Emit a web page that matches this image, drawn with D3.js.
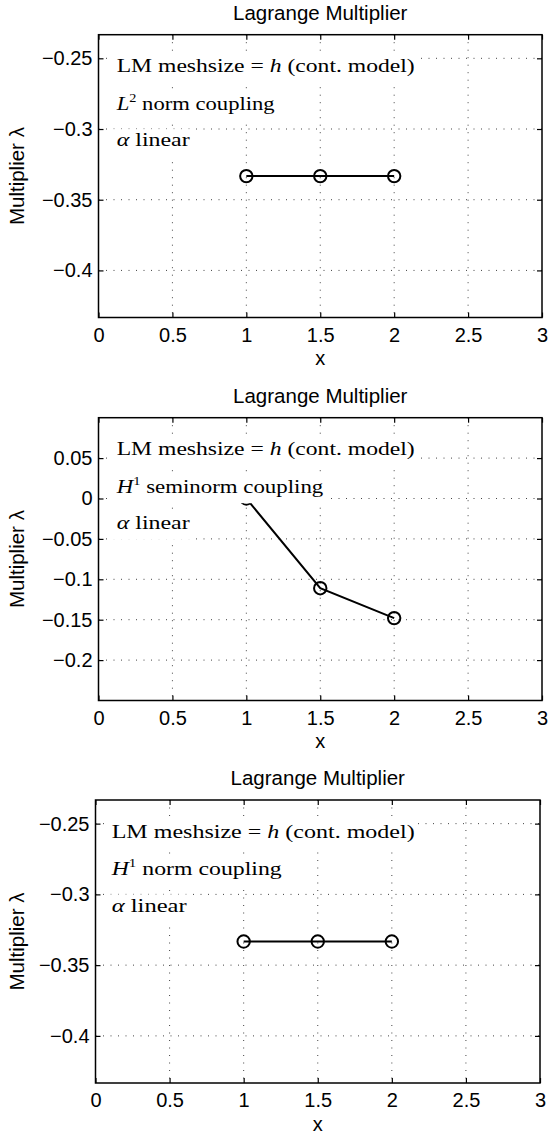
<!DOCTYPE html>
<html><head><meta charset="utf-8">
<script src="https://cdn.jsdelivr.net/npm/d3@7"></script>
<style>body{margin:0;background:#fff} svg{display:block}</style>
</head>
<body><svg id="c" width="548" height="1137"></svg>
<script>
// ---- data ----
const xTicks = [0, 0.5, 1, 1.5, 2, 2.5, 3];
const xPoints = [1, 1.5, 2];
const lambdaL2 = [-0.3333, -0.3333, -0.3333];
const lambdaH1Semi = [0.0, -0.111, -0.148];
const lambdaH1 = [-0.3333, -0.3333, -0.3333];
const yTicksA = [-0.4, -0.35, -0.3, -0.25];
const yTicksB = [-0.2, -0.15, -0.1, -0.05, 0, 0.05];
const yDomainA = [-0.4333, -0.2333];
const yDomainB = [-0.25, 0.1];
const titleText = "Lagrange Multiplier";
const xLabelText = "x";
const yLabelText = "Multiplier λ";
const couplingNames = [["L", "2", " norm coupling"], ["H", "1", " seminorm coupling"], ["H", "1", " norm coupling"]];

// ---- layout ----
const panels = [
  {left: 98.5, right: 542, top: 34.7, bottom: 317.5, data: lambdaL2, yDomain: yDomainA, yTicks: yTicksA, coupling: couplingNames[0], textX: 116.7, textW: [298, 158, 73]},
  {left: 98.5, right: 542, top: 417.7, bottom: 700.5, data: lambdaH1Semi, yDomain: yDomainB, yTicks: yTicksB, coupling: couplingNames[1], textX: 116.7, textW: [298, 206.6, 73]},
  {left: 95.5, right: 540, top: 800, bottom: 1083, data: lambdaH1, yDomain: yDomainA, yTicks: yTicksA, coupling: couplingNames[2], textX: 111.7, textW: [303, 170, 75]}
];
const SANS = "'Liberation Sans', Arial, Helvetica, sans-serif";
const SERIF = "'Liberation Serif', 'Times New Roman', serif";
const FS = 20;
const fmt = d => d === 0 ? "0" : (d < 0 ? "\u2212" : "") + String(Math.abs(d));

const svg = d3.select("#c");

panels.forEach(p => {
  const x = d3.scaleLinear().domain([0, 3]).range([p.left, p.right]);
  const y = d3.scaleLinear().domain(p.yDomain).range([p.bottom, p.top]);
  const g = svg.append("g");

  // grid
  const grid = g.append("g").attr("stroke", "#444").attr("stroke-width", 1).attr("stroke-dasharray", "1,6.5");
  grid.selectAll("line.v").data(xTicks.slice(1, -1)).join("line")
    .attr("x1", d => x(d)).attr("x2", d => x(d)).attr("y1", p.top).attr("y2", p.bottom);
  grid.selectAll("line.h").data(p.yTicks).join("line")
    .attr("x1", p.left).attr("x2", p.right).attr("y1", d => y(d)).attr("y2", d => y(d));

  // data
  const line = d3.line().x((d, i) => x(xPoints[i])).y(d => y(d));
  g.append("path").datum(p.data).attr("d", line).attr("fill", "none").attr("stroke", "#000").attr("stroke-width", 2);
  g.selectAll("circle").data(p.data).join("circle")
    .attr("cx", (d, i) => x(xPoints[i])).attr("cy", d => y(d)).attr("r", 6.2)
    .attr("fill", "none").attr("stroke", "#000").attr("stroke-width", 2);

  // annotations with white background
  const offs = [37.5, 75, 111.5];
  const ann = g.append("g");
  for (let i = 0; i < 3; i++) {
    const base = p.top + offs[i];
    const rect = ann.append("rect").attr("fill", "#fff");
    const t = ann.append("text").attr("x", p.textX).attr("y", base)
      .attr("font-family", SERIF).attr("font-size", 19).attr("fill", "#000");
    if (i === 0) {
      t.append("tspan").text("LM meshsize = ");
      t.append("tspan").attr("font-style", "italic").text("h");
      t.append("tspan").text(" (cont. model)");
    } else if (i === 1) {
      t.append("tspan").attr("font-style", "italic").text(p.coupling[0]);
      t.append("tspan").attr("font-size", 12).attr("dy", -8).text(p.coupling[1]);
      t.append("tspan").attr("dy", 8).text(p.coupling[2]);
    } else {
      t.append("tspan").attr("font-style", "italic").text("α");
      t.append("tspan").text(" linear");
    }
    t.attr("textLength", p.textW[i]).attr("lengthAdjust", "spacingAndGlyphs");
    rect.attr("x", p.textX - 5).attr("y", base - 17).attr("width", p.textW[i] + 8).attr("height", 27.5);
  }

  // axes: box + inward ticks
  const ax = g.append("g").attr("font-family", SANS).attr("font-size", FS);
  const bottomAxis = d3.axisBottom(x).tickValues(xTicks).tickFormat(fmt).tickSizeInner(-5).tickSizeOuter(0).tickPadding(10);
  const topAxis = d3.axisTop(x).tickValues(xTicks).tickFormat("").tickSizeInner(-5).tickSizeOuter(0);
  const leftAxis = d3.axisLeft(y).tickValues(p.yTicks).tickFormat(fmt).tickSizeInner(-5).tickSizeOuter(0).tickPadding(6);
  const rightAxis = d3.axisRight(y).tickValues(p.yTicks).tickFormat("").tickSizeInner(-5).tickSizeOuter(0);
  [[bottomAxis, `translate(0,${p.bottom})`], [topAxis, `translate(0,${p.top})`],
   [leftAxis, `translate(${p.left},0)`], [rightAxis, `translate(${p.right},0)`]].forEach(([a, tr]) => {
    const s = ax.append("g").attr("transform", tr).call(a);
    s.select(".domain").remove();
    s.selectAll("line").attr("stroke", "#000").attr("stroke-width", 1.2);
    s.selectAll("text").attr("fill", "#000").attr("font-family", SANS).attr("font-size", FS);
  });
  ax.append("rect").attr("x", p.left).attr("y", p.top).attr("width", p.right - p.left).attr("height", p.bottom - p.top)
    .attr("fill", "none").attr("stroke", "#000").attr("stroke-width", 1.5);

  // labels
  svg.append("text").attr("x", (p.left + p.right) / 2).attr("y", p.top - 15).attr("text-anchor", "middle")
    .attr("font-family", SANS).attr("font-size", 20.5).text(titleText);
  svg.append("text").attr("x", (p.left + p.right) / 2).attr("y", p.bottom + 47.5).attr("text-anchor", "middle")
    .attr("font-family", SANS).attr("font-size", 20).text(xLabelText);
  const cy = (p.top + p.bottom) / 2;
  svg.append("text").attr("transform", `translate(24,${cy}) rotate(-90)`).attr("text-anchor", "middle")
    .attr("font-family", SANS).attr("font-size", 20.5).text(yLabelText);
});
</script>
</body></html>
